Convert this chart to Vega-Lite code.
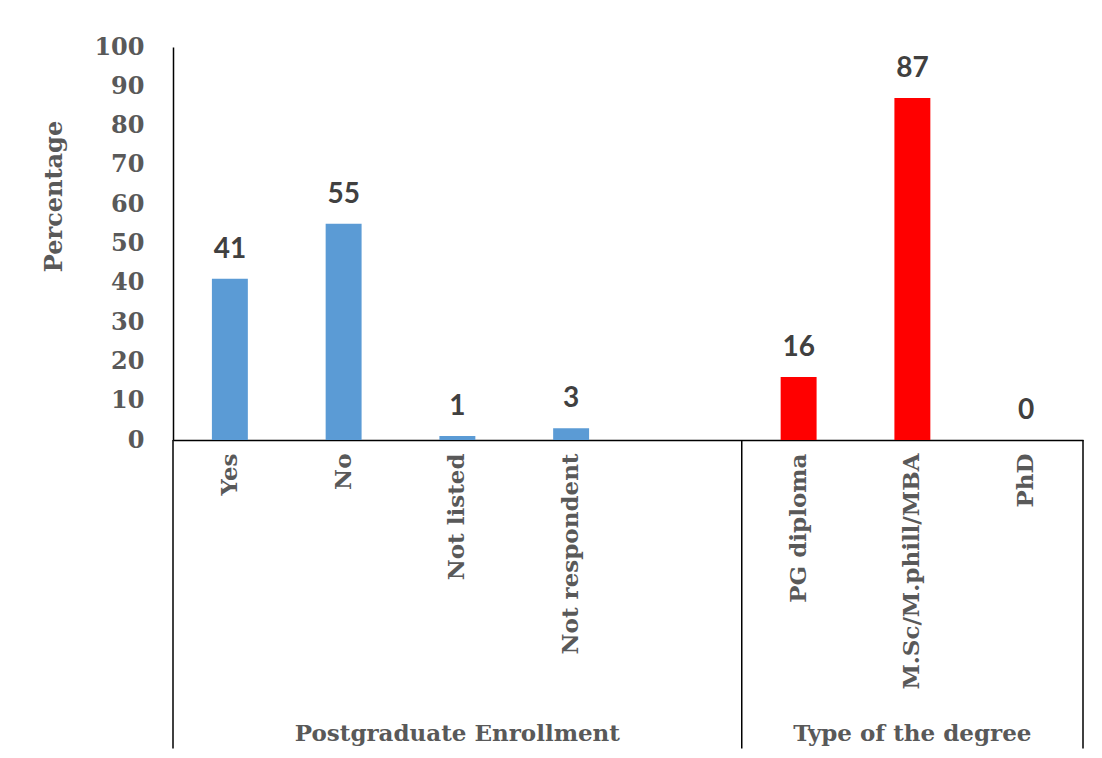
{
  "$schema": "https://vega.github.io/schema/vega-lite/v6.json",
  "width": 910,
  "height": 393,
  "autosize": "none",
  "padding": {"left": 173, "top": 47, "right": 19, "bottom": 318},
  "background": "white",
  "config": {
    "view": {"stroke": null},
    "axisX": {
      "domain": true,
      "domainColor": "#000000",
      "domainWidth": 1.5,
      "ticks": false,
      "grid": false,
      "labelAngle": -90,
      "labelAlign": "right",
      "labelBaseline": "middle",
      "labelPadding": 13,
      "labelFont": "DejaVu Serif",
      "labelFontWeight": "bold",
      "labelFontSize": 23,
      "labelColor": "#595959",
      "labelOverlap": false,
      "labelLimit": 400
    },
    "axisY": {
      "titleFont": "DejaVu Serif",
      "titleFontWeight": "bold",
      "titleFontSize": 24,
      "titleColor": "#595959",
      "titlePadding": 27,
      "titleY": 149,
      "domain": true,
      "domainColor": "#000000",
      "domainWidth": 1.5,
      "ticks": false,
      "grid": false,
      "labelPadding": 29,
      "labelFont": "DejaVu Serif",
      "labelFontWeight": "bold",
      "labelFontSize": 24,
      "labelColor": "#595959",
      "labelOverlap": false
    }
  },
  "datasets": {
    "bars": [
      {"category": "Yes", "group": "Postgraduate Enrollment", "percentage": 41},
      {"category": "No", "group": "Postgraduate Enrollment", "percentage": 55},
      {"category": "Not listed", "group": "Postgraduate Enrollment", "percentage": 1},
      {"category": "Not respondent", "group": "Postgraduate Enrollment", "percentage": 3},
      {"category": "PG diploma", "group": "Type of the degree", "percentage": 16},
      {"category": "M.Sc/M.phill/MBA", "group": "Type of the degree", "percentage": 87},
      {"category": "PhD", "group": "Type of the degree", "percentage": 0}
    ],
    "groups": [
      {"category": "Not listed", "group": "Postgraduate Enrollment"},
      {"category": "M.Sc/M.phill/MBA", "group": "Type of the degree"}
    ],
    "leftEdges": [
      {"category": "Yes"},
      {"category": "PG diploma"}
    ],
    "rightEdges": [
      {"category": "PhD"}
    ]
  },
  "layer": [
    {
      "data": {"name": "bars"},
      "mark": {"type": "bar", "width": {"band": 0.316}},
      "encoding": {
        "x": {
          "field": "category",
          "type": "nominal",
          "sort": null,
          "title": null,
          "scale": {
            "domain": ["Yes", "No", "Not listed", "Not respondent", " ", "PG diploma", "M.Sc/M.phill/MBA", "PhD"],
            "paddingInner": 0,
            "paddingOuter": 0
          }
        },
        "y": {
          "field": "percentage",
          "type": "quantitative",
          "title": "Percentage",
          "scale": {"domain": [0, 100], "nice": false, "zero": true},
          "axis": {"values": [0, 10, 20, 30, 40, 50, 60, 70, 80, 90, 100], "labelOverlap": false}
        },
        "color": {
          "field": "group",
          "type": "nominal",
          "scale": {"domain": ["Postgraduate Enrollment", "Type of the degree"], "range": ["#5B9BD5", "#FF0000"]},
          "legend": null
        }
      }
    },
    {
      "data": {"name": "bars"},
      "mark": {"type": "text", "baseline": "alphabetic", "dy": -21, "font": "Lato", "fontWeight": "bold", "fontSize": 28, "color": "#404040"},
      "encoding": {
        "x": {"field": "category", "type": "nominal", "sort": null, "title": null},
        "y": {
          "field": "percentage",
          "type": "quantitative",
          "title": "Percentage",
          "axis": {"values": [0, 10, 20, 30, 40, 50, 60, 70, 80, 90, 100], "labelOverlap": false}
        },
        "text": {"field": "percentage", "type": "quantitative"}
      }
    },
    {
      "data": {"name": "groups"},
      "mark": {"type": "text", "baseline": "alphabetic", "font": "DejaVu Serif", "fontWeight": "bold", "fontSize": 23, "color": "#595959"},
      "encoding": {
        "x": {"field": "category", "type": "nominal", "sort": null, "title": null},
        "y": {"datum": -76.5, "title": "Percentage", "axis": {"values": [0, 10, 20, 30, 40, 50, 60, 70, 80, 90, 100], "labelOverlap": false}},
        "text": {"field": "group", "type": "nominal"}
      }
    },
    {
      "data": {"name": "leftEdges"},
      "mark": {"type": "rule", "color": "#000000", "strokeWidth": 1.5},
      "encoding": {
        "x": {"field": "category", "type": "nominal", "sort": null, "title": null, "bandPosition": 0},
        "y": {"datum": 0, "title": "Percentage", "axis": {"values": [0, 10, 20, 30, 40, 50, 60, 70, 80, 90, 100], "labelOverlap": false}},
        "y2": {"datum": -78.5}
      }
    },
    {
      "data": {"name": "rightEdges"},
      "mark": {"type": "rule", "color": "#000000", "strokeWidth": 1.5},
      "encoding": {
        "x": {"field": "category", "type": "nominal", "sort": null, "title": null, "bandPosition": 1},
        "y": {"datum": 0, "title": "Percentage", "axis": {"values": [0, 10, 20, 30, 40, 50, 60, 70, 80, 90, 100], "labelOverlap": false}},
        "y2": {"datum": -78.5}
      }
    }
  ]
}
